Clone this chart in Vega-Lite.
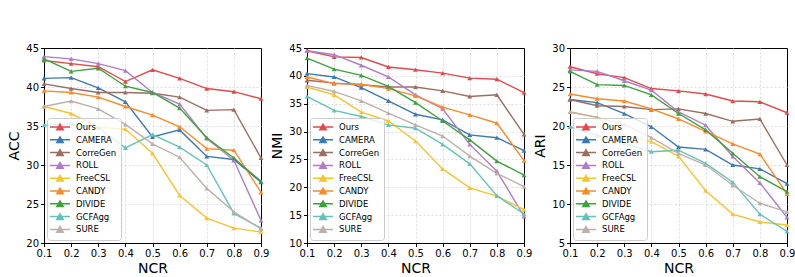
{
  "$schema": "https://vega.github.io/schema/vega-lite/v6.json",
  "padding": {"left": 7, "top": 42, "right": 5, "bottom": 5},
  "background": "white",
  "datasets": {
    "acc": [
      {"method":"Ours","ncr":0.1,"v":43.4},{"method":"Ours","ncr":0.2,"v":43.0},{"method":"Ours","ncr":0.3,"v":42.6},{"method":"Ours","ncr":0.4,"v":40.7},{"method":"Ours","ncr":0.5,"v":42.2},{"method":"Ours","ncr":0.6,"v":41.1},{"method":"Ours","ncr":0.7,"v":39.8},{"method":"Ours","ncr":0.8,"v":39.4},{"method":"Ours","ncr":0.9,"v":38.5},
      {"method":"CAMERA","ncr":0.1,"v":41.1},{"method":"CAMERA","ncr":0.2,"v":41.2},{"method":"CAMERA","ncr":0.3,"v":39.9},{"method":"CAMERA","ncr":0.4,"v":38.1},{"method":"CAMERA","ncr":0.5,"v":33.6},{"method":"CAMERA","ncr":0.6,"v":34.5},{"method":"CAMERA","ncr":0.7,"v":31.1},{"method":"CAMERA","ncr":0.8,"v":30.7},{"method":"CAMERA","ncr":0.9,"v":27.8},
      {"method":"CorreGen","ncr":0.1,"v":40.4},{"method":"CorreGen","ncr":0.2,"v":39.8},{"method":"CorreGen","ncr":0.3,"v":39.3},{"method":"CorreGen","ncr":0.4,"v":39.3},{"method":"CorreGen","ncr":0.5,"v":39.2},{"method":"CorreGen","ncr":0.6,"v":38.7},{"method":"CorreGen","ncr":0.7,"v":37.0},{"method":"CorreGen","ncr":0.8,"v":37.1},{"method":"CorreGen","ncr":0.9,"v":30.9},
      {"method":"ROLL","ncr":0.1,"v":43.9},{"method":"ROLL","ncr":0.2,"v":43.6},{"method":"ROLL","ncr":0.3,"v":43.0},{"method":"ROLL","ncr":0.4,"v":42.1},{"method":"ROLL","ncr":0.5,"v":39.3},{"method":"ROLL","ncr":0.6,"v":37.8},{"method":"ROLL","ncr":0.7,"v":33.4},{"method":"ROLL","ncr":0.8,"v":30.6},{"method":"ROLL","ncr":0.9,"v":22.9},
      {"method":"FreeCSL","ncr":0.1,"v":37.5},{"method":"FreeCSL","ncr":0.2,"v":36.6},{"method":"FreeCSL","ncr":0.3,"v":34.8},{"method":"FreeCSL","ncr":0.4,"v":34.6},{"method":"FreeCSL","ncr":0.5,"v":31.5},{"method":"FreeCSL","ncr":0.6,"v":26.1},{"method":"FreeCSL","ncr":0.7,"v":23.2},{"method":"FreeCSL","ncr":0.8,"v":21.9},{"method":"FreeCSL","ncr":0.9,"v":21.4},
      {"method":"CANDY","ncr":0.1,"v":39.5},{"method":"CANDY","ncr":0.2,"v":39.3},{"method":"CANDY","ncr":0.3,"v":38.7},{"method":"CANDY","ncr":0.4,"v":37.5},{"method":"CANDY","ncr":0.5,"v":36.4},{"method":"CANDY","ncr":0.6,"v":34.9},{"method":"CANDY","ncr":0.7,"v":32.1},{"method":"CANDY","ncr":0.8,"v":31.9},{"method":"CANDY","ncr":0.9,"v":26.5},
      {"method":"DIVIDE","ncr":0.1,"v":43.6},{"method":"DIVIDE","ncr":0.2,"v":42.0},{"method":"DIVIDE","ncr":0.3,"v":42.4},{"method":"DIVIDE","ncr":0.4,"v":40.1},{"method":"DIVIDE","ncr":0.5,"v":39.3},{"method":"DIVIDE","ncr":0.6,"v":37.3},{"method":"DIVIDE","ncr":0.7,"v":33.5},{"method":"DIVIDE","ncr":0.8,"v":30.9},{"method":"DIVIDE","ncr":0.9,"v":27.9},
      {"method":"GCFAgg","ncr":0.1,"v":35.1},{"method":"GCFAgg","ncr":0.2,"v":35.3},{"method":"GCFAgg","ncr":0.3,"v":34.8},{"method":"GCFAgg","ncr":0.4,"v":32.2},{"method":"GCFAgg","ncr":0.5,"v":33.9},{"method":"GCFAgg","ncr":0.6,"v":32.3},{"method":"GCFAgg","ncr":0.7,"v":30.0},{"method":"GCFAgg","ncr":0.8,"v":23.8},{"method":"GCFAgg","ncr":0.9,"v":21.9},
      {"method":"SURE","ncr":0.1,"v":37.5},{"method":"SURE","ncr":0.2,"v":38.2},{"method":"SURE","ncr":0.3,"v":37.2},{"method":"SURE","ncr":0.4,"v":35.2},{"method":"SURE","ncr":0.5,"v":32.7},{"method":"SURE","ncr":0.6,"v":31.0},{"method":"SURE","ncr":0.7,"v":27.0},{"method":"SURE","ncr":0.8,"v":24.0},{"method":"SURE","ncr":0.9,"v":21.8}
    ],
    "nmi": [
      {"method":"Ours","ncr":0.1,"v":44.5},{"method":"Ours","ncr":0.2,"v":43.4},{"method":"Ours","ncr":0.3,"v":43.3},{"method":"Ours","ncr":0.4,"v":41.6},{"method":"Ours","ncr":0.5,"v":41.1},{"method":"Ours","ncr":0.6,"v":40.5},{"method":"Ours","ncr":0.7,"v":39.6},{"method":"Ours","ncr":0.8,"v":39.4},{"method":"Ours","ncr":0.9,"v":37.0},
      {"method":"CAMERA","ncr":0.1,"v":40.4},{"method":"CAMERA","ncr":0.2,"v":39.8},{"method":"CAMERA","ncr":0.3,"v":37.9},{"method":"CAMERA","ncr":0.4,"v":35.5},{"method":"CAMERA","ncr":0.5,"v":33.1},{"method":"CAMERA","ncr":0.6,"v":32.1},{"method":"CAMERA","ncr":0.7,"v":29.4},{"method":"CAMERA","ncr":0.8,"v":28.9},{"method":"CAMERA","ncr":0.9,"v":26.6},
      {"method":"CorreGen","ncr":0.1,"v":39.2},{"method":"CorreGen","ncr":0.2,"v":38.7},{"method":"CorreGen","ncr":0.3,"v":38.4},{"method":"CorreGen","ncr":0.4,"v":38.0},{"method":"CorreGen","ncr":0.5,"v":38.0},{"method":"CorreGen","ncr":0.6,"v":37.3},{"method":"CorreGen","ncr":0.7,"v":36.3},{"method":"CorreGen","ncr":0.8,"v":36.6},{"method":"CorreGen","ncr":0.9,"v":29.5},
      {"method":"ROLL","ncr":0.1,"v":44.5},{"method":"ROLL","ncr":0.2,"v":43.8},{"method":"ROLL","ncr":0.3,"v":41.9},{"method":"ROLL","ncr":0.4,"v":39.8},{"method":"ROLL","ncr":0.5,"v":36.6},{"method":"ROLL","ncr":0.6,"v":34.1},{"method":"ROLL","ncr":0.7,"v":27.7},{"method":"ROLL","ncr":0.8,"v":22.9},{"method":"ROLL","ncr":0.9,"v":14.8},
      {"method":"FreeCSL","ncr":0.1,"v":38.0},{"method":"FreeCSL","ncr":0.2,"v":36.6},{"method":"FreeCSL","ncr":0.3,"v":33.5},{"method":"FreeCSL","ncr":0.4,"v":31.9},{"method":"FreeCSL","ncr":0.5,"v":28.3},{"method":"FreeCSL","ncr":0.6,"v":23.3},{"method":"FreeCSL","ncr":0.7,"v":19.9},{"method":"FreeCSL","ncr":0.8,"v":18.4},{"method":"FreeCSL","ncr":0.9,"v":16.0},
      {"method":"CANDY","ncr":0.1,"v":39.8},{"method":"CANDY","ncr":0.2,"v":38.6},{"method":"CANDY","ncr":0.3,"v":38.5},{"method":"CANDY","ncr":0.4,"v":37.7},{"method":"CANDY","ncr":0.5,"v":36.4},{"method":"CANDY","ncr":0.6,"v":34.4},{"method":"CANDY","ncr":0.7,"v":33.0},{"method":"CANDY","ncr":0.8,"v":31.5},{"method":"CANDY","ncr":0.9,"v":24.8},
      {"method":"DIVIDE","ncr":0.1,"v":43.2},{"method":"DIVIDE","ncr":0.2,"v":41.2},{"method":"DIVIDE","ncr":0.3,"v":40.1},{"method":"DIVIDE","ncr":0.4,"v":38.1},{"method":"DIVIDE","ncr":0.5,"v":35.2},{"method":"DIVIDE","ncr":0.6,"v":31.9},{"method":"DIVIDE","ncr":0.7,"v":28.5},{"method":"DIVIDE","ncr":0.8,"v":24.7},{"method":"DIVIDE","ncr":0.9,"v":22.2},
      {"method":"GCFAgg","ncr":0.1,"v":36.3},{"method":"GCFAgg","ncr":0.2,"v":33.8},{"method":"GCFAgg","ncr":0.3,"v":32.7},{"method":"GCFAgg","ncr":0.4,"v":31.2},{"method":"GCFAgg","ncr":0.5,"v":30.6},{"method":"GCFAgg","ncr":0.6,"v":27.7},{"method":"GCFAgg","ncr":0.7,"v":24.2},{"method":"GCFAgg","ncr":0.8,"v":18.5},{"method":"GCFAgg","ncr":0.9,"v":15.2},
      {"method":"SURE","ncr":0.1,"v":38.3},{"method":"SURE","ncr":0.2,"v":37.2},{"method":"SURE","ncr":0.3,"v":35.5},{"method":"SURE","ncr":0.4,"v":33.3},{"method":"SURE","ncr":0.5,"v":31.2},{"method":"SURE","ncr":0.6,"v":29.2},{"method":"SURE","ncr":0.7,"v":25.6},{"method":"SURE","ncr":0.8,"v":22.5},{"method":"SURE","ncr":0.9,"v":20.1}
    ],
    "ari": [
      {"method":"Ours","ncr":0.1,"v":27.6},{"method":"Ours","ncr":0.2,"v":26.7},{"method":"Ours","ncr":0.3,"v":26.2},{"method":"Ours","ncr":0.4,"v":24.8},{"method":"Ours","ncr":0.5,"v":24.5},{"method":"Ours","ncr":0.6,"v":24.1},{"method":"Ours","ncr":0.7,"v":23.2},{"method":"Ours","ncr":0.8,"v":23.1},{"method":"Ours","ncr":0.9,"v":21.7},
      {"method":"CAMERA","ncr":0.1,"v":23.4},{"method":"CAMERA","ncr":0.2,"v":23.0},{"method":"CAMERA","ncr":0.3,"v":21.6},{"method":"CAMERA","ncr":0.4,"v":19.9},{"method":"CAMERA","ncr":0.5,"v":17.3},{"method":"CAMERA","ncr":0.6,"v":17.0},{"method":"CAMERA","ncr":0.7,"v":15.0},{"method":"CAMERA","ncr":0.8,"v":14.5},{"method":"CAMERA","ncr":0.9,"v":12.6},
      {"method":"CorreGen","ncr":0.1,"v":23.4},{"method":"CorreGen","ncr":0.2,"v":22.6},{"method":"CorreGen","ncr":0.3,"v":22.5},{"method":"CorreGen","ncr":0.4,"v":22.1},{"method":"CorreGen","ncr":0.5,"v":22.2},{"method":"CorreGen","ncr":0.6,"v":21.6},{"method":"CorreGen","ncr":0.7,"v":20.6},{"method":"CorreGen","ncr":0.8,"v":20.9},{"method":"CorreGen","ncr":0.9,"v":15.0},
      {"method":"ROLL","ncr":0.1,"v":27.2},{"method":"ROLL","ncr":0.2,"v":27.0},{"method":"ROLL","ncr":0.3,"v":25.8},{"method":"ROLL","ncr":0.4,"v":24.6},{"method":"ROLL","ncr":0.5,"v":21.8},{"method":"ROLL","ncr":0.6,"v":20.1},{"method":"ROLL","ncr":0.7,"v":16.1},{"method":"ROLL","ncr":0.8,"v":12.7},{"method":"ROLL","ncr":0.9,"v":8.3},
      {"method":"FreeCSL","ncr":0.1,"v":21.8},{"method":"FreeCSL","ncr":0.2,"v":21.1},{"method":"FreeCSL","ncr":0.3,"v":18.8},{"method":"FreeCSL","ncr":0.4,"v":18.0},{"method":"FreeCSL","ncr":0.5,"v":16.1},{"method":"FreeCSL","ncr":0.6,"v":11.7},{"method":"FreeCSL","ncr":0.7,"v":8.7},{"method":"FreeCSL","ncr":0.8,"v":7.7},{"method":"FreeCSL","ncr":0.9,"v":7.3},
      {"method":"CANDY","ncr":0.1,"v":24.1},{"method":"CANDY","ncr":0.2,"v":23.5},{"method":"CANDY","ncr":0.3,"v":23.2},{"method":"CANDY","ncr":0.4,"v":22.2},{"method":"CANDY","ncr":0.5,"v":20.9},{"method":"CANDY","ncr":0.6,"v":19.3},{"method":"CANDY","ncr":0.7,"v":17.7},{"method":"CANDY","ncr":0.8,"v":16.4},{"method":"CANDY","ncr":0.9,"v":11.3},
      {"method":"DIVIDE","ncr":0.1,"v":27.0},{"method":"DIVIDE","ncr":0.2,"v":25.3},{"method":"DIVIDE","ncr":0.3,"v":25.2},{"method":"DIVIDE","ncr":0.4,"v":24.0},{"method":"DIVIDE","ncr":0.5,"v":21.6},{"method":"DIVIDE","ncr":0.6,"v":19.5},{"method":"DIVIDE","ncr":0.7,"v":16.5},{"method":"DIVIDE","ncr":0.8,"v":13.5},{"method":"DIVIDE","ncr":0.9,"v":11.6},
      {"method":"GCFAgg","ncr":0.1,"v":19.9},{"method":"GCFAgg","ncr":0.2,"v":18.8},{"method":"GCFAgg","ncr":0.3,"v":17.8},{"method":"GCFAgg","ncr":0.4,"v":16.7},{"method":"GCFAgg","ncr":0.5,"v":16.9},{"method":"GCFAgg","ncr":0.6,"v":15.2},{"method":"GCFAgg","ncr":0.7,"v":12.8},{"method":"GCFAgg","ncr":0.8,"v":8.7},{"method":"GCFAgg","ncr":0.9,"v":6.5},
      {"method":"SURE","ncr":0.1,"v":21.8},{"method":"SURE","ncr":0.2,"v":21.1},{"method":"SURE","ncr":0.3,"v":20.2},{"method":"SURE","ncr":0.4,"v":18.5},{"method":"SURE","ncr":0.5,"v":16.5},{"method":"SURE","ncr":0.6,"v":15.0},{"method":"SURE","ncr":0.7,"v":12.4},{"method":"SURE","ncr":0.8,"v":10.1},{"method":"SURE","ncr":0.9,"v":9.0}
    ]
  },
  "spacing": 46,
  "bounds": "flush",
  "resolve": {"scale": {"color": "independent", "y": "independent", "x": "independent"}, "legend": {"color": "independent"}},
  "hconcat": [
    {
      "width": 217, "height": 195,
      "data": {"name": "acc"},
      "encoding": {
        "x": {"field": "ncr", "type": "quantitative", "scale": {"domain": [0.1, 0.9], "nice": false, "zero": false}, "axis": {"values": [0.1,0.2,0.3,0.4,0.5,0.6,0.7,0.8,0.9], "format": ".1f", "title": "NCR"}},
        "y": {"field": "v", "type": "quantitative", "scale": {"domain": [20, 45], "nice": false, "zero": false}, "axis": {"values": [20,25,30,35,40,45], "title": "ACC", "gridOpacity": {"condition": {"test": "datum.value <= 20 || datum.value >= 45", "value": 0}, "value": 1}}},
        "color": {"field": "method", "type": "nominal", "scale": {"domain": ["Ours","CAMERA","CorreGen","ROLL","FreeCSL","CANDY","DIVIDE","GCFAgg","SURE"], "range": ["#e04a4e","#3d78b3","#9b6e62","#b07cc6","#f5c431","#fb8a2a","#3fa03f","#68c1b8","#bdb0ab"]}, "legend": {"title": null}}
      },
      "layer": [
        {"mark": {"type": "line", "strokeWidth": 1.4}},
        {"mark": {"type": "point", "shape": "triangle-up", "filled": true, "size": 24, "opacity": 1}}
      ]
    },
    {
      "width": 217, "height": 195,
      "data": {"name": "nmi"},
      "encoding": {
        "x": {"field": "ncr", "type": "quantitative", "scale": {"domain": [0.1, 0.9], "nice": false, "zero": false}, "axis": {"values": [0.1,0.2,0.3,0.4,0.5,0.6,0.7,0.8,0.9], "format": ".1f", "title": "NCR"}},
        "y": {"field": "v", "type": "quantitative", "scale": {"domain": [10, 45], "nice": false, "zero": false}, "axis": {"values": [10,15,20,25,30,35,40,45], "title": "NMI", "gridOpacity": {"condition": {"test": "datum.value <= 10 || datum.value >= 45", "value": 0}, "value": 1}}},
        "color": {"field": "method", "type": "nominal", "scale": {"domain": ["Ours","CAMERA","CorreGen","ROLL","FreeCSL","CANDY","DIVIDE","GCFAgg","SURE"], "range": ["#e04a4e","#3d78b3","#9b6e62","#b07cc6","#f5c431","#fb8a2a","#3fa03f","#68c1b8","#bdb0ab"]}, "legend": {"title": null}}
      },
      "layer": [
        {"mark": {"type": "line", "strokeWidth": 1.4}},
        {"mark": {"type": "point", "shape": "triangle-up", "filled": true, "size": 24, "opacity": 1}}
      ]
    },
    {
      "width": 217, "height": 195,
      "data": {"name": "ari"},
      "encoding": {
        "x": {"field": "ncr", "type": "quantitative", "scale": {"domain": [0.1, 0.9], "nice": false, "zero": false}, "axis": {"values": [0.1,0.2,0.3,0.4,0.5,0.6,0.7,0.8,0.9], "format": ".1f", "title": "NCR"}},
        "y": {"field": "v", "type": "quantitative", "scale": {"domain": [5, 30], "nice": false, "zero": false}, "axis": {"values": [5,10,15,20,25,30], "title": "ARI", "gridOpacity": {"condition": {"test": "datum.value <= 5 || datum.value >= 30", "value": 0}, "value": 1}}},
        "color": {"field": "method", "type": "nominal", "scale": {"domain": ["Ours","CAMERA","CorreGen","ROLL","FreeCSL","CANDY","DIVIDE","GCFAgg","SURE"], "range": ["#e04a4e","#3d78b3","#9b6e62","#b07cc6","#f5c431","#fb8a2a","#3fa03f","#68c1b8","#bdb0ab"]}, "legend": {"title": null}}
      },
      "layer": [
        {"mark": {"type": "line", "strokeWidth": 1.4}},
        {"mark": {"type": "point", "shape": "triangle-up", "filled": true, "size": 24, "opacity": 1}}
      ]
    }
  ],
  "config": {
    "font": "DejaVu Sans",
    "view": {"stroke": "#000000", "strokeWidth": 1},
    "axis": {
      "labelFont": "DejaVu Sans", "labelFontSize": 10, "labelColor": "#000000",
      "titleFont": "DejaVu Sans", "titleFontSize": 14, "titleFontWeight": "normal", "titleColor": "#000000",
      "domainColor": "#000000", "tickColor": "#000000", "tickSize": 3.5, "labelPadding": 2,
      "gridColor": "#d4d4d4", "gridDash": [2, 2], "gridWidth": 0.8, "titlePadding": 4, "labelFlush": false
    },
    "axisX": {"titlePadding": 3, "gridOpacity": {"condition": {"test": "datum.value <= 0.1 || datum.value >= 0.9", "value": 0}, "value": 1}},
    "legend": {
      "orient": "bottom-left", "offset": 3,
      "symbolType": "M-2.5,0H2.5M-0.8,0.7L0,-0.7L0.8,0.7Z",
      "symbolSize": 64, "symbolStrokeWidth": 1.5, "symbolOffset": 4,
      "labelFont": "DejaVu Sans", "labelFontSize": 8.5, "labelColor": "#000000", "labelOffset": 11,
      "rowPadding": 0.8, "padding": 4,
      "strokeColor": "#cccccc", "fillColor": "rgba(255,255,255,0.8)", "cornerRadius": 3
    }
  }
}
